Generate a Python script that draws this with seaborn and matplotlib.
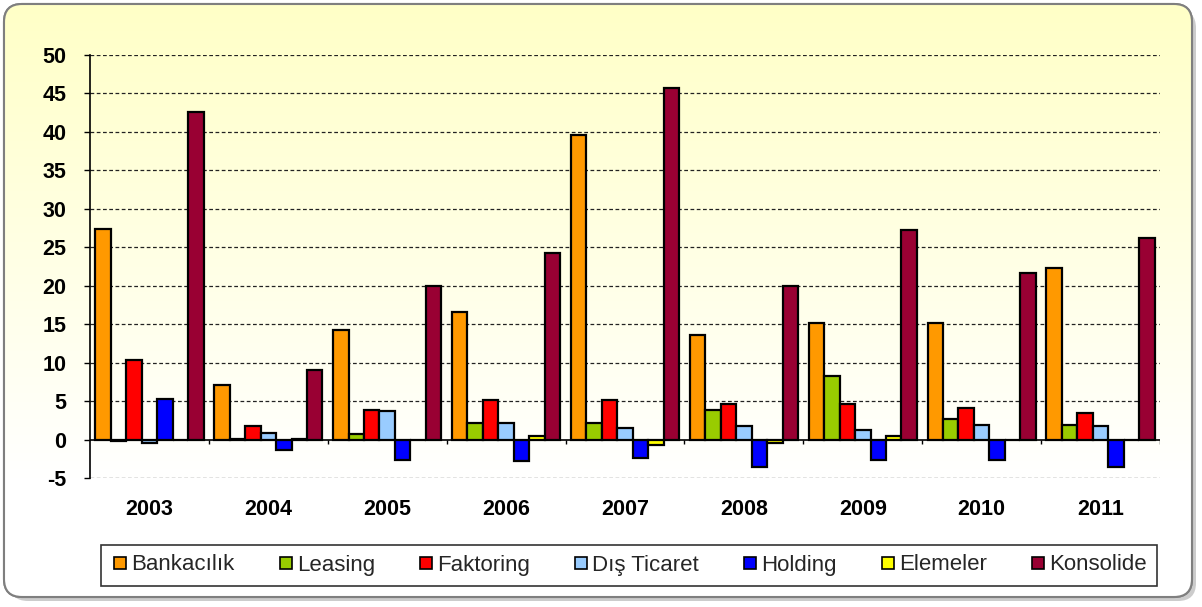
import matplotlib
matplotlib.use("Agg")
import matplotlib.pyplot as plt
from matplotlib.patches import FancyBboxPatch
from matplotlib.lines import Line2D
import numpy as np
import pandas as pd
import seaborn as sns

years = ["2003", "2004", "2005", "2006", "2007", "2008", "2009", "2010", "2011"]
series = ["Bankacılık", "Leasing", "Faktoring", "Dış Ticaret", "Holding", "Elemeler", "Konsolide"]
colors = ["#FF9900", "#99CC00", "#FF0000", "#99CCFF", "#0000FF", "#FFFF00", "#990033"]

bankacilik = [27.4, 7.15, 14.25, 16.6, 39.6, 13.65, 15.1, 15.2, 22.3]
leasing = [-0.2, 0.1, 0.75, 2.2, 2.2, 3.8, 8.2, 2.7, 1.86]
faktoring = [10.3, 1.8, 3.8, 5.2, 5.2, 4.6, 4.6, 4.1, 3.5]
dis_ticaret = [-0.4, 0.8, 3.7, 2.2, 1.47, 1.73, 1.3, 1.95, 1.77]
holding = [5.3, -1.3, -2.6, -2.8, -2.4, -3.56, -2.6, -2.6, -3.56]
elemeler = [0.0, 0.1, -0.1, 0.47, -0.65, -0.44, 0.45, -0.1, -0.1]
konsolide = [42.6, 9.1, 20.0, 24.3, 45.7, 19.9, 27.3, 21.6, 26.2]

values = [bankacilik, leasing, faktoring, dis_ticaret, holding, elemeler, konsolide]
df = pd.DataFrame(
    [(y, s, v[i]) for s, v in zip(series, values) for i, y in enumerate(years)],
    columns=["Yıl", "Seri", "Değer"],
)

sns.set_theme(style="white")
plt.rcParams["font.family"] = ["Liberation Sans", "DejaVu Sans"]
plt.rcParams["axes.unicode_minus"] = False

W, H = 1202, 607
fig = plt.figure(figsize=(W / 100, H / 100), dpi=100)
fig.patch.set_facecolor("white")

# background: rounded frame with yellow-to-white gradient and a soft shadow
bg = fig.add_axes([0, 0, 1, 1])
bg.set_xlim(0, W)
bg.set_ylim(H, 0)
bg.axis("off")
shadow = FancyBboxPatch((10, 10), W - 16, H - 16, boxstyle="round,pad=0,rounding_size=18",
                        facecolor="#9a9a9a", edgecolor="none", alpha=0.5)
bg.add_patch(shadow)
frame = FancyBboxPatch((4, 4), W - 14, H - 14, boxstyle="round,pad=0,rounding_size=18",
                       facecolor="white", edgecolor="#7f7f7f", linewidth=1.5)
bg.add_patch(frame)
grad = np.linspace(0, 1, 256)[:, None]
grad = np.clip(grad / 0.8, 0, 1)
top = np.array([1.0, 1.0, 0.78])
rgb = top[None, None, :] * (1 - grad[..., None]) + np.ones(3)[None, None, :] * grad[..., None]
img = bg.imshow(rgb, extent=(4, W - 10, H - 10, 4), aspect="auto", zorder=1)
img.set_clip_path(frame)
frame_edge = FancyBboxPatch((4, 4), W - 14, H - 14, boxstyle="round,pad=0,rounding_size=18",
                            facecolor="none", edgecolor="#7f7f7f", linewidth=1.5, zorder=2)
bg.add_patch(frame_edge)

ax = fig.add_axes([90 / W, (H - 478) / H, (1160 - 90) / W, (478 - 55) / H])
ax.set_facecolor("none")
sns.barplot(data=df, x="Yıl", y="Değer", hue="Seri", palette=dict(zip(series, colors)),
            saturation=1, width=0.91, gap=0, edgecolor="black", linewidth=1.6,
            legend=False, ax=ax, zorder=3)

ax.set_ylim(-5, 50)
ax.set_xlim(-0.5, len(years) - 0.5)
ax.set_yticks(range(-5, 51, 5))
for yv in range(-5, 51, 5):
    if yv != 0:
        ax.axhline(yv, color="#222222", linestyle=(0, (3, 2)), linewidth=0.9, zorder=1)
ax.axhline(0, color="black", linewidth=1.2, zorder=4)
ax.vlines([i + 0.5 for i in range(len(years) - 1)] + [len(years) - 0.5], -0.55, 0,
          color="black", linewidth=1.0, zorder=4)

for side in ["top", "right", "bottom"]:
    ax.spines[side].set_visible(False)
ax.spines["left"].set_color("black")
ax.spines["left"].set_linewidth(1.2)
ax.tick_params(axis="y", left=True, length=4, width=1, color="black", pad=13)
ax.tick_params(axis="x", bottom=False, length=0, pad=15)
for lab in ax.get_yticklabels() + ax.get_xticklabels():
    lab.set_fontweight("bold")
    lab.set_fontsize(15.5)
    lab.set_color("black")
ax.set_xlabel("")
ax.set_ylabel("")

handles = [Line2D([], [], marker="s", linestyle="none", markersize=8,
                  markerfacecolor=c, markeredgecolor="black", markeredgewidth=1.2)
           for c in colors]
leg = fig.legend(handles, series, loc="center", ncol=7,
                 bbox_to_anchor=((98 + 1160) / 2 / W, 1 - 565 / H),
                 frameon=True, fancybox=False, edgecolor="black", fontsize=16,
                 handletextpad=0.1, columnspacing=1.9, borderpad=0.45, handlelength=0.8)
leg.get_frame().set_linewidth(1.2)
leg.get_frame().set_facecolor("white")

fig.savefig("out.png", dpi=100)
